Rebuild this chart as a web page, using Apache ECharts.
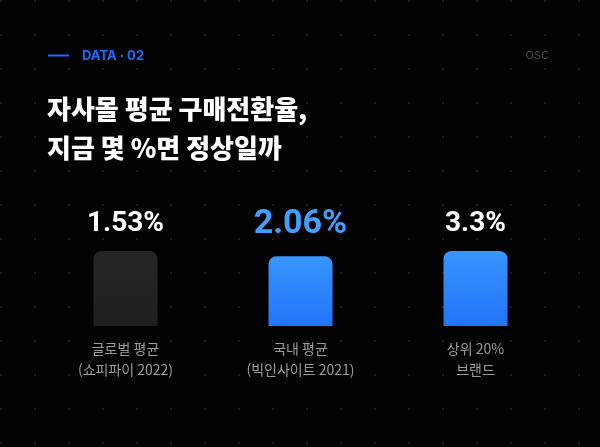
<!DOCTYPE html>
<html lang="ko">
<head>
  <meta charset="UTF-8">
  <title>구매전환율</title>
  <style>
    * { margin: 0; padding: 0; }
    body {
      background-color: #020202;
      background-image: radial-gradient(circle, #1c1c1c 1px, transparent 1.4px);
      background-size: 34px 34px;
      background-position: -16px -16px;
    }
    #chart { width: 600px; height: 447px; }
  </style>
</head>
<body>
  <div id="chart"></div>

  <script src="https://cdn.jsdelivr.net/npm/echarts@6/dist/echarts.min.js"></script>
  <script>
    var categories = ['글로벌 평균\n(쇼피파이 2022)', '국내 평균\n(빅인사이트 2021)', '상위 20%\n브랜드'];
    var rates = [1.53, 2.06, 3.3];
    // bar height as drawn, in % of the tallest column
    var barFill = [100, 93, 100];

    var rateLabels = rates.map(function (r) { return r + '%' });

    var gray = new echarts.graphic.LinearGradient(0, 0, 0, 1, [
      { offset: 0, color: '#262626' },
      { offset: 1, color: '#1f1f1f' }
    ]);
    var blue = new echarts.graphic.LinearGradient(0, 0, 0, 1, [
      { offset: 0, color: '#3895ff' },
      { offset: 1, color: '#2274f7' }
    ]);
    var barColors = [gray, blue, blue];

    var myChart = echarts.init(document.getElementById('chart'));

    var option = {
      backgroundColor: 'transparent',
      animation: false,
      title: {
        text: '자사몰 평균 구매전환율,\n지금 몇 %면 정상일까',
        left: 47,
        top: 90,
        padding: 0,
        textStyle: {
          color: '#ffffff',
          fontFamily: 'Noto Sans CJK KR',
          fontSize: 26,
          fontWeight: 900,
          lineHeight: 39
        }
      },
      graphic: [
        {
          type: 'line',
          shape: { x1: 48, y1: 55.5, x2: 69, y2: 55.5 },
          style: { stroke: '#1f6bff', lineWidth: 2 }
        },
        {
          type: 'text',
          x: 82,
          y: 56,
          style: {
            text: 'DATA · 02',
            fill: '#1f6bff',
            font: 'bold 13px Inter',
            verticalAlign: 'middle'
          }
        },
        {
          type: 'text',
          x: 549,
          y: 56,
          style: {
            text: 'OSC',
            fill: '#4a4a4a',
            font: '11px Inter',
            align: 'right',
            verticalAlign: 'middle'
          }
        }
      ],
      grid: { left: 38, right: 37, top: 251, bottom: 121 },
      xAxis: [
        {
          type: 'category',
          data: categories,
          axisLine: { show: false },
          axisTick: { show: false },
          axisLabel: {
            color: '#9c9c9c',
            fontFamily: 'Noto Sans CJK KR',
            fontSize: 14,
            lineHeight: 21,
            margin: 12
          }
        },
        {
          type: 'category',
          position: 'top',
          data: rateLabels,
          axisLine: { show: false },
          axisTick: { show: false },
          axisLabel: {
            margin: 27,
            verticalAlign: 'middle',
            formatter: function (v, i) {
              return '{r' + i + '|' + v + '}'
            },
            rich: {
              r0: { color: '#ffffff', fontFamily: 'Roboto', fontWeight: 'bold', fontSize: 28 },
              r1: { color: '#3f9fff', fontFamily: 'Roboto', fontWeight: 'bold', fontSize: 34 },
              r2: { color: '#ffffff', fontFamily: 'Roboto', fontWeight: 'bold', fontSize: 28 }
            }
          }
        }
      ],
      yAxis: {
        type: 'value',
        min: 0,
        max: 100,
        show: false
      },
      series: [
        {
          type: 'bar',
          xAxisIndex: 0,
          barWidth: 64,
          data: barFill.map(function (v, i) {
            return {
              value: v,
              itemStyle: { color: barColors[i], borderRadius: [8, 8, 0, 0] }
            }
          })
        }
      ]
    };

    myChart.setOption(option);
  </script>
</body>
</html>
